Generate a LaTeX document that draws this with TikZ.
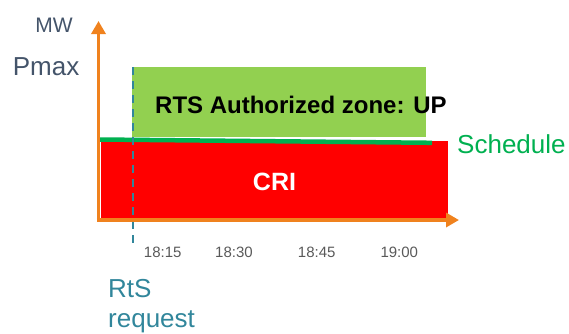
\documentclass[tikz,border=0pt]{standalone}
\usepackage{fontspec}
\setmainfont{Liberation Sans}
\usetikzlibrary{arrows.meta}
\definecolor{axisorange}{HTML}{F0821E}
\definecolor{zonegreen}{HTML}{92D050}
\definecolor{schedgreen}{HTML}{00B050}
\definecolor{crired}{HTML}{FF0000}
\definecolor{rtsteal}{HTML}{31869B}
\definecolor{slate}{HTML}{44546A}
\definecolor{tickgray}{HTML}{595959}
\tikzset{
  axisline/.style={draw=axisorange, line width=3.5pt, -{Triangle[length=13pt,width=14pt]}},
  ticklabel/.style={anchor=base, text=tickgray, font=\fontsize{15}{18}\selectfont, inner sep=0pt},
  unitlabel/.style={text=slate, inner sep=0pt},
  teallabel/.style={anchor=base west, text=rtsteal, font=\fontsize{26}{30}\selectfont, inner sep=0pt}
}
\begin{document}
\begin{tikzpicture}[x=1pt,y=-1pt]
\useasboundingbox (0,0) rectangle (569,333);
% zones
\fill[zonegreen] (132,67) rectangle (426,137);
\fill[crired] (101,141) rectangle (448,219);
\coordinate (s0) at (100,139.5);
\coordinate (s1) at (432,142.8);
\draw[schedgreen, line width=4.5pt] (s0) -- (s1);
% RtS request dashed line
\coordinate (d0) at (132.7,67);
\coordinate (d1) at (132.7,245);
\draw[rtsteal, line width=2pt, dash pattern=on 8pt off 6pt] (d0) -- (d1);
% axes
\coordinate (o) at (98.5,220);
\coordinate (ytip) at (98.5,21);
\coordinate (xtip) at (459,220);
\draw[axisline] ([yshift=1.75pt]o) -- (ytip);
\draw[axisline] ([xshift=-1.75pt]o) -- (xtip);
% texts
\node[unitlabel, anchor=base, font=\fontsize{21}{24}\selectfont] (mw) at (54,32) {MW};
\node[unitlabel, anchor=base west, font=\fontsize{26}{30}\selectfont] (pmax) at (12.7,75) {Pmax};
\node[anchor=base west, inner sep=0pt, font=\fontsize{24}{27}\selectfont\bfseries] (zone) at (155,113) {RTS Authorized zone: UP};
\node[anchor=base, inner sep=0pt, text=white, font=\fontsize{25}{28}\selectfont\bfseries] (cri) at (274.5,190) {CRI};
\node[anchor=base west, inner sep=0pt, text=schedgreen, font=\fontsize{26}{30}\selectfont] (sched) at (457,153) {Schedule};
\node[ticklabel] (t1) at (162.7,257) {18:15};
\node[ticklabel] (t2) at (234,257) {18:30};
\node[ticklabel] (t3) at (316.7,257) {18:45};
\node[ticklabel] (t4) at (399.3,257) {19:00};
\node[teallabel] (rts) at (108,297) {RtS};
\node[teallabel] (req) at (108,327) {request};
\end{tikzpicture}
\end{document}
